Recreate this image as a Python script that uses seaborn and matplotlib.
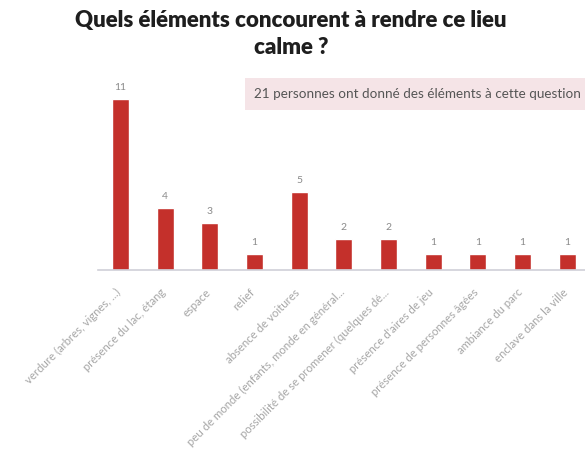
import matplotlib
matplotlib.use("Agg")
import matplotlib.pyplot as plt
import matplotlib.transforms as mtransforms
import seaborn as sns
import pandas as pd

categories = [
    "verdure (arbres, vignes, ...)",
    "présence du lac, étang",
    "espace",
    "relief",
    "absence de voitures",
    "peu de monde (enfants, monde en général...",
    "possibilité de se promener (quelques dé...",
    "présence d'aires de jeu",
    "présence de personnes âgées",
    "ambiance du parc",
    "enclave dans la ville",
]
counts = [11, 4, 3, 1, 5, 2, 2, 1, 1, 1, 1]

title = "Quels éléments concourent à rendre ce lieu\ncalme ?"
note = "21 personnes ont donné des éléments à cette question"

df = pd.DataFrame({"element": categories, "n": counts})

sns.set_theme(style="white")
plt.rcParams["font.family"] = ["Lato", "DejaVu Sans"]

W, H = 585, 461
fig = plt.figure(figsize=(W / 100, H / 100), dpi=100)
fig.patch.set_facecolor("white")
ax = fig.add_axes([98 / W, 191 / H, 487 / W, 187 / H])

sns.barplot(data=df, x="element", y="n", color="#c4302b", saturation=1,
            width=0.38, ax=ax)
ax.set_xlim(-0.5, 10.4)
ax.set_ylim(0, 12)

for c in ax.containers:
    ax.bar_label(c, labels=[str(v) for v in counts], padding=5,
                 fontsize=7.5, color="#8a8a8a")

ax.set_xlabel("")
ax.set_ylabel("")
ax.set_yticks([])
for s in ("left", "top", "right"):
    ax.spines[s].set_visible(False)
ax.spines["bottom"].set_color("#d0d0d8")
ax.spines["bottom"].set_linewidth(1.2)
ax.tick_params(axis="x", length=0, pad=12)
ax.set_xticks(range(len(categories)))
ax.set_xticklabels(categories, rotation=45, ha="right",
                   rotation_mode="anchor", fontsize=8.2, color="#a6a6a6")
shift = mtransforms.ScaledTranslation(-5 / 100, 0, fig.dpi_scale_trans)
for lbl in ax.get_xticklabels():
    lbl.set_transform(lbl.get_transform() + shift)

fig.text(291 / W, 1 - 34 / H, title, ha="center", va="center",
         fontsize=16, fontweight="heavy", color="#1e1e1e",
         linespacing=1.3)

# shaded note strip running to the right edge
fig.patches.append(plt.Rectangle((245 / W, 1 - 110 / H), 345 / W, 32 / H,
                                 transform=fig.transFigure,
                                 facecolor="#f5e4e7", edgecolor="none"))
fig.text(254 / W, 1 - 94 / H, note, ha="left", va="center",
         fontsize=9.7, color="#555555")

fig.savefig("out.png", dpi=100, facecolor="white")
